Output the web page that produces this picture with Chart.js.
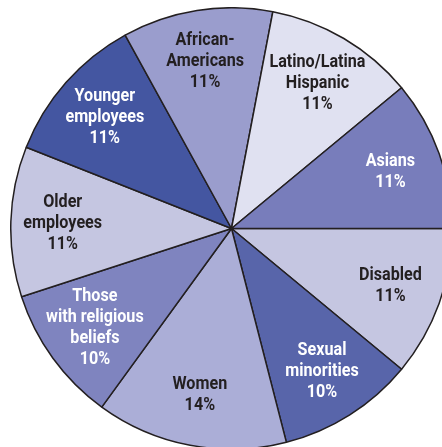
<!DOCTYPE html>
<html>
<head>
<meta charset="utf-8">
<script src="https://cdn.jsdelivr.net/npm/chart.js@4"></script>
<style>
  html, body { margin: 0; padding: 0; background: #fff; overflow: hidden; }
  body { width: 442px; height: 447px; position: relative; }
  #wrap { position: absolute; left: 10px; top: 7px; width: 443px; height: 443px; }
</style>
</head>
<body>
<div id="wrap"><canvas id="myChart" width="443" height="443"></canvas></div>
<script>
'use strict';
// slices clockwise, starting at 3 o'clock
let labels = ['Disabled', 'Sexual minorities', 'Women', 'Those with religious beliefs',
  'Older employees', 'Younger employees', 'African-Americans', 'Latino/Latina Hispanic', 'Asians'];
let labelLines = [
  ['Disabled'], ['Sexual', 'minorities'], ['Women'], ['Those', 'with religious', 'beliefs'],
  ['Older', 'employees'], ['Younger', 'employees'], ['African-', 'Americans'],
  ['Latino/Latina', 'Hispanic'], ['Asians']
];
let shares = [11, 10, 14, 10, 11, 11, 11, 11, 11];
let sliceColors = ['#c5c6e1', '#5865aa', '#abaed7', '#7f84bf', '#c5c6e1',
  '#4456a1', '#9a9dcd', '#e0e1f1', '#787dbb'];
let textColors = ['#231f20', '#ffffff', '#231f20', '#ffffff', '#231f20',
  '#ffffff', '#231f20', '#231f20', '#ffffff'];

// draw the labels inside each slice (condensed look by squeezing x)
let sliceLabels = {
  id: 'sliceLabels',
  afterDatasetsDraw(chart) {
    let ctx = chart.ctx;
    let arcs = chart.getDatasetMeta(0).data;
    let squeeze = 0.85;
    ctx.save();
    ctx.font = 'bold 19px Roboto, "Liberation Sans", sans-serif';
    ctx.textAlign = 'center';
    ctx.textBaseline = 'middle';
    for (let i = 0; i < arcs.length; i++) {
      let a = arcs[i];
      let mid = (a.startAngle + a.endAngle) / 2;
      let r = a.outerRadius * 0.765;
      let x = a.x + Math.cos(mid) * r;
      let y = a.y + Math.sin(mid) * r;
      let lines = labelLines[i].concat([shares[i] + '%']);
      let lh = 21;
      let y0 = y - (lines.length - 1) * lh / 2;
      ctx.fillStyle = textColors[i];
      for (let j = 0; j < lines.length; j++) {
        ctx.save();
        ctx.translate(x, y0 + j * lh);
        ctx.scale(squeeze, 1);
        ctx.fillText(lines[j], 0, 0);
        ctx.restore();
      }
    }
    ctx.restore();
  }
};

let ctx = document.getElementById('myChart').getContext('2d');
let myChart = new Chart(ctx, {
  type: 'pie',
  data: {
    labels: labels,
    datasets: [{
      data: shares,
      backgroundColor: sliceColors,
      borderColor: '#231f20',
      borderWidth: 1.5,
      borderAlign: 'center'
    }]
  },
  options: {
    responsive: false,
    animation: false,
    rotation: 90,
    layout: { padding: 0 },
    plugins: {
      legend: { display: false },
      tooltip: { enabled: false }
    }
  },
  plugins: [sliceLabels]
});
</script>
</body>
</html>
